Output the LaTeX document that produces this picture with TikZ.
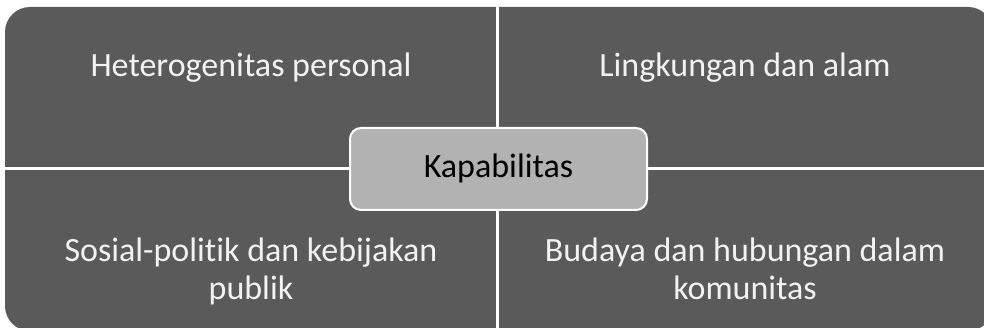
\documentclass[tikz,border=0pt]{standalone}
\usepackage{fontspec}
\setmainfont[Ligatures=NoCommon]{Carlito}
\definecolor{quad}{HTML}{5A5A5A}
\definecolor{cent}{HTML}{B2B2B2}
\definecolor{txtw}{HTML}{F2F2F2}
\begin{document}
\begin{tikzpicture}[x=1pt,y=-1pt,
  lbl/.style={text=txtw,font=\fontsize{34}{39}\selectfont,align=center,anchor=base,inner sep=0pt},
  centbox/.style={draw=white,line width=2pt,fill=cent,rounded corners=11pt,minimum width=297pt,minimum height=82pt,text=black,font=\fontsize{34}{39}\selectfont,inner sep=0pt}]
\useasboundingbox (0,0) rectangle (984,328);
\begin{scope}
\clip (0,0) rectangle (984,328);
\fill[quad,rounded corners=25pt] (5,7) rectangle (993,331);
\draw[white,line width=3pt] (497.5,0) -- (497.5,330);
\draw[white,line width=3pt] (0,168.5) -- (984,168.5);
\end{scope}
\node[lbl] (tl) at (251,77) {Heterogenitas personal};
\node[lbl] (tr) at (745,77) {Lingkungan dan alam};
\node[lbl] (bl) at (251,300) {Sosial-politik dan kebijakan\\publik};
\node[lbl] (br) at (745,300) {Budaya dan hubungan dalam\\komunitas};
\node[centbox] (c) at (498.5,169) {};
\node[text=black,font=\fontsize{34}{39}\selectfont,anchor=base,inner sep=0pt] (k) at (498.5,178) {Kapabilitas};
\end{tikzpicture}
\end{document}
